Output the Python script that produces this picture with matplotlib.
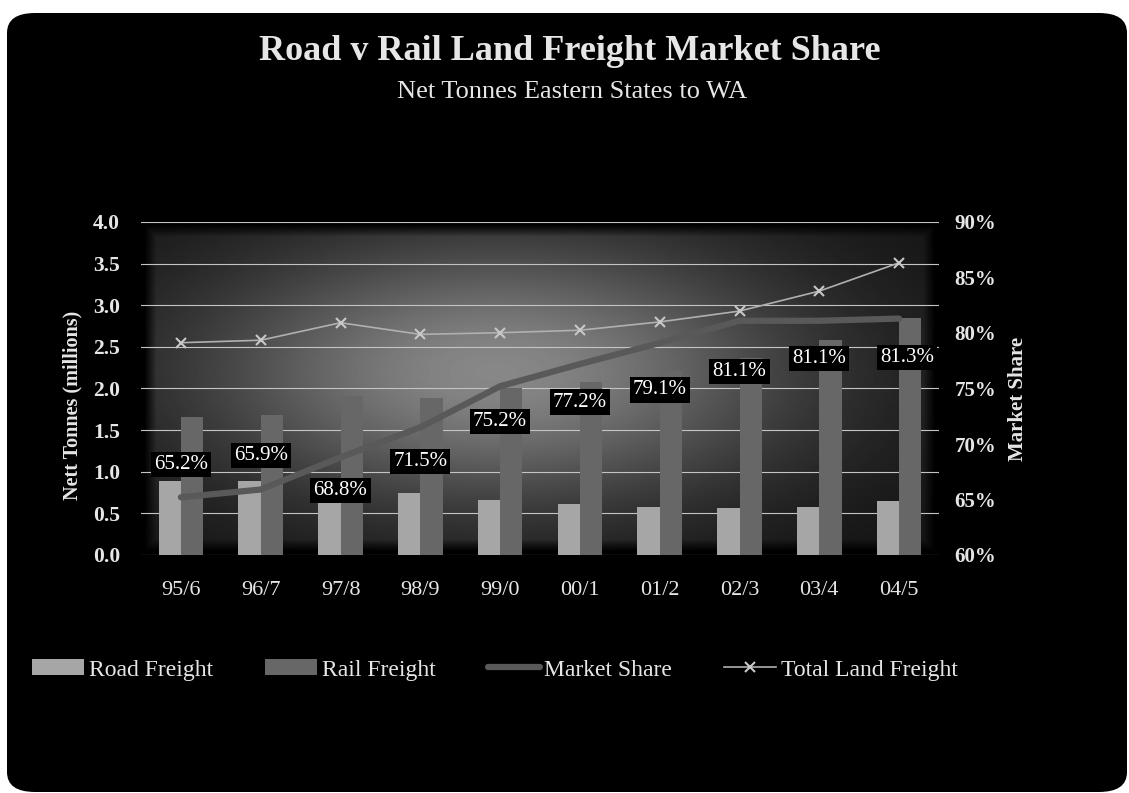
import numpy as np
import matplotlib
matplotlib.use("Agg")
import matplotlib.pyplot as plt
from matplotlib.patches import FancyBboxPatch, Patch
from matplotlib.lines import Line2D
from matplotlib.ticker import FuncFormatter

plt.rcParams['font.family'] = ['Liberation Serif', 'DejaVu Serif']

years = ['95/6', '96/7', '97/8', '98/9', '99/0', '00/1', '01/2', '02/3', '03/4', '04/5']
road_freight = [0.89, 0.89, 0.87, 0.75, 0.66, 0.61, 0.58, 0.56, 0.58, 0.65]
rail_freight = [1.66, 1.68, 1.91, 1.89, 2.01, 2.08, 2.22, 2.37, 2.58, 2.85]
total_freight = [2.55, 2.58, 2.79, 2.65, 2.67, 2.70, 2.80, 2.93, 3.17, 3.51]
market_share = [65.2, 65.9, 68.8, 71.5, 75.2, 77.2, 79.1, 81.1, 81.1, 81.3]

# where each share label sits relative to its point (pixels, +y is up)
label_dx = [0, 0, 0, 0, 0, 0, 0, 0, 0, 8]
label_dy = [33, 34, -33, -34, -35, -38, -47, -51, -38, -39]

TXT = '#e6e6e6'
W, H = 1129, 793

fig = plt.figure(figsize=(W / 100, H / 100), dpi=100)
fig.patch.set_facecolor('white')

# black rounded card behind everything
card = FancyBboxPatch((7 / W, 1 / H), (1127 - 7) / W, (780 - 1) / H,
                      boxstyle='round,pad=0,rounding_size=0.025',
                      transform=fig.transFigure, fc='black', ec='none', zorder=-10)
fig.patches.append(card)

ax = fig.add_axes([141 / W, 1 - 555 / H, 798 / W, 333 / H])
ax.set_facecolor('none')

# radial grey glow for the plot area
ph, pw = 333, 798
yy, xx = np.mgrid[0:ph, 0:pw]
glow = np.exp(-((xx - 355) / 300.0) ** 2 - ((yy - 150) / 135.0) ** 2)
shade = 0.07 + 0.46 * glow
edge = np.minimum.reduce([xx, pw - 1 - xx, yy, ph - 1 - yy])
shade *= np.clip((edge - 3) / 12.0, 0, 1)
ax.imshow(shade, cmap='gray', vmin=0, vmax=1, extent=(0, 1, 0, 1),
          transform=ax.transAxes, aspect='auto', zorder=-1, interpolation='bilinear')

x = np.arange(len(years))
bw = 0.28
ax.bar(x - bw / 2, road_freight, bw, color='#a6a6a6', zorder=2)
ax.bar(x + bw / 2, rail_freight, bw, color='#676767', zorder=2)
ax.plot(x, total_freight, color='#b0b0b0', lw=1.2, marker='x', ms=7, mew=1.5,
        mec='#c8c8c8', zorder=3)

ax.set_xlim(-0.5, len(years) - 0.5)
ax.set_ylim(0, 4)
ax.set_yticks(np.arange(0, 4.01, 0.5))
ax.yaxis.set_major_formatter(FuncFormatter(lambda v, p: f'{v:.1f}'))
ax.set_xticks(x)
ax.set_xticklabels(years)
ax.set_axisbelow(True)
ax.grid(axis='y', color='#c4c4c4', lw=0.8)
for s in ax.spines.values():
    s.set_visible(False)
ax.tick_params(axis='y', length=0, pad=15, labelsize=15.5, labelcolor=TXT)
ax.tick_params(axis='x', length=0, pad=19, labelsize=16, labelcolor=TXT)
for t in ax.get_yticklabels():
    t.set_fontweight('bold')

ax2 = ax.twinx()
ax2.set_facecolor('none')
ax2.plot(x, market_share, color='#595959', lw=4.5, solid_capstyle='round',
         solid_joinstyle='round', zorder=4)
ax2.set_ylim(60, 90)
ax2.set_yticks(np.arange(60, 91, 5))
ax2.yaxis.set_major_formatter(FuncFormatter(lambda v, p: f'{v:.0f}%'))
for s in ax2.spines.values():
    s.set_visible(False)
ax2.tick_params(axis='y', length=0, pad=11, labelsize=15, labelcolor=TXT)
for t in ax2.get_yticklabels():
    t.set_fontweight('bold')

for i, v in enumerate(market_share):
    ax2.annotate(f'{v:.1f}%', (x[i], v), xytext=(label_dx[i], label_dy[i]),
                 textcoords='offset pixels', ha='center', va='center',
                 fontsize=15, color='white', zorder=6,
                 bbox=dict(boxstyle='square,pad=0.15', fc='black', ec='none'))

fig.text(570 / W, 1 - 60 / H, 'Road v Rail Land Freight Market Share',
         ha='center', va='baseline', fontsize=26, fontweight='bold', color=TXT)
fig.text(572 / W, 1 - 98 / H, 'Net Tonnes Eastern States to WA',
         ha='center', va='baseline', fontsize=19, color=TXT)
fig.text(72 / W, 1 - 405 / H, 'Nett Tonnes (millions)', rotation=90,
         ha='center', va='center', fontsize=14.5, fontweight='bold', color=TXT)
fig.text(1018 / W, 1 - 399 / H, 'Market Share', rotation=90,
         ha='center', va='center', fontsize=15, fontweight='bold', color=TXT)

handles = [
    Patch(fc='#a6a6a6', ec='none'),
    Patch(fc='#676767', ec='none'),
    Line2D([], [], color='#595959', lw=4.5, solid_capstyle='round'),
    Line2D([], [], color='#b0b0b0', lw=1.2, marker='x', ms=7, mew=1.5, mec='#c8c8c8'),
]
labels = ['Road Freight', 'Rail Freight', 'Market Share', 'Total Land Freight']
fig.legend(handles, labels, loc='center left', bbox_to_anchor=(32 / W, 1 - 670 / H),
           ncol=4, frameon=False, fontsize=17, handlelength=2.2, handleheight=0.64,
           handletextpad=0.21, columnspacing=2.2, borderpad=0, borderaxespad=0,
           labelcolor=TXT)

fig.savefig('out.png', dpi=100, facecolor=fig.get_facecolor())
